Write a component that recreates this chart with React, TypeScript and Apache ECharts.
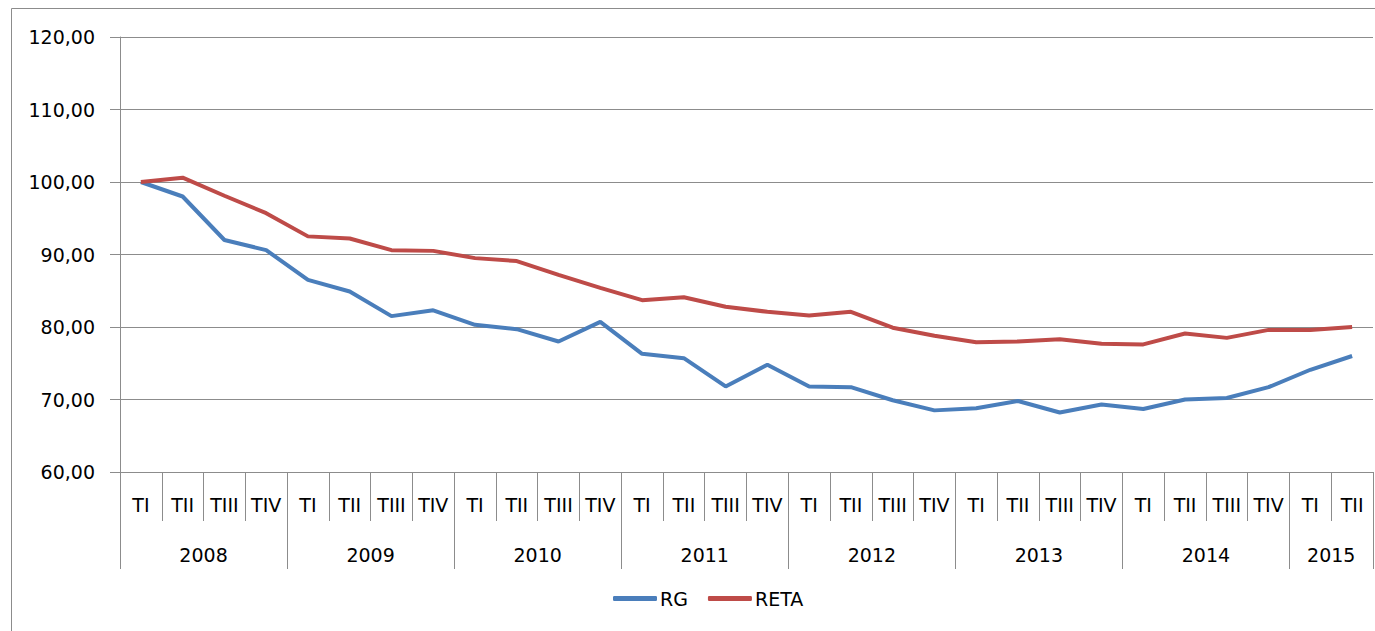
import React, { useEffect, useRef } from "react";
import * as echarts from "echarts";

const years = ["2008", "2009", "2010", "2011", "2012", "2013", "2014", "2015"];
const quarterNames = ["TI", "TII", "TIII", "TIV"];
const quarterCounts = [4, 4, 4, 4, 4, 4, 4, 2];

const rgValues = [
  100.0, 98.0, 92.0, 90.6, 86.5, 84.9, 81.5, 82.3, 80.3, 79.7, 78.0, 80.7, 76.3, 75.7, 71.8,
  74.8, 71.8, 71.7, 69.9, 68.5, 68.8, 69.8, 68.2, 69.3, 68.7, 70.0, 70.2, 71.7, 74.1, 76.0,
];
const retaValues = [
  100.0, 100.6, 98.1, 95.7, 92.5, 92.2, 90.6, 90.5, 89.5, 89.1, 87.2, 85.4, 83.7, 84.1, 82.8,
  82.1, 81.6, 82.1, 79.9, 78.8, 77.9, 78.0, 78.3, 77.7, 77.6, 79.1, 78.5, 79.6, 79.6, 80.0,
];

const quarterLabels: string[] = [];
const yearBoundaries: number[] = [0];
const yearCenters: number[] = [];
{
  let pos = 0;
  quarterCounts.forEach((n) => {
    for (let i = 0; i < n; i++) quarterLabels.push(quarterNames[i]);
    yearCenters.push(pos + n / 2);
    pos += n;
    yearBoundaries.push(pos);
  });
}

const FONT = "DejaVu Sans";
const FS = 19;
const GRAY = "#8c8c8c";

export default function App() {
  const ref = useRef<HTMLDivElement>(null);
  useEffect(() => {
    if (!ref.current) return;
    const chart = echarts.init(ref.current, undefined, { renderer: "svg" });
    chart.setOption({
      animation: false,
      backgroundColor: "#ffffff",
      textStyle: { fontFamily: FONT },
      graphic: [
        {
          type: "rect",
          shape: { x: 11.5, y: 8.5, width: 1400, height: 700 },
          style: { fill: "none", stroke: GRAY, lineWidth: 1 },
          silent: true,
        },
      ],
      grid: { left: 120, right: 2, top: 37, bottom: 159, containLabel: false },
      legend: {
        bottom: 18,
        left: 608,
        icon: "roundRect",
        itemWidth: 44,
        itemHeight: 5,
        itemGap: 20,
        textStyle: { fontFamily: FONT, fontSize: FS, color: "#000", padding: [0, 0, 0, -2] },
        data: ["RG", "RETA"],
      },
      xAxis: [
        {
          type: "category",
          data: quarterLabels,
          boundaryGap: true,
          axisLine: { show: true, lineStyle: { color: GRAY, width: 1 } },
          axisTick: { show: true, interval: 0, length: 49, lineStyle: { color: GRAY } },
          axisLabel: {
            interval: 0,
            margin: 23,
            fontFamily: FONT,
            fontSize: FS,
            color: "#000",
          },
          splitLine: { show: false },
        },
        {
          type: "value",
          min: 0,
          max: quarterLabels.length,
          position: "bottom",
          axisLine: { show: false },
          axisTick: {
            show: true,
            length: 97,
            customValues: yearBoundaries,
            lineStyle: { color: GRAY },
          },
          axisLabel: {
            show: true,
            margin: 73,
            customValues: yearCenters,
            formatter: (v: number) => {
              const idx = yearCenters.findIndex((c) => Math.abs(c - v) < 1e-6);
              return idx >= 0 ? years[idx] : "";
            },
            fontFamily: FONT,
            fontSize: FS,
            color: "#000",
          },
          splitLine: { show: false },
        },
      ],
      yAxis: {
        type: "value",
        min: 60,
        max: 120,
        interval: 10,
        axisLine: { show: true, lineStyle: { color: GRAY, width: 1 } },
        axisTick: { show: true, length: 10, lineStyle: { color: GRAY } },
        axisLabel: {
          margin: 25,
          fontFamily: FONT,
          fontSize: FS,
          color: "#000",
          formatter: (v: number) => v.toFixed(2).replace(".", ","),
        },
        splitLine: { show: true, lineStyle: { color: GRAY, width: 1 } },
      },
      series: [
        {
          name: "RG",
          type: "line",
          data: rgValues,
          xAxisIndex: 0,
          showSymbol: false,
          symbol: "none",
          lineStyle: { color: "#4a7ebb", width: 4 },
          itemStyle: { color: "#4a7ebb" },
        },
        {
          name: "RETA",
          type: "line",
          data: retaValues,
          xAxisIndex: 0,
          showSymbol: false,
          symbol: "none",
          lineStyle: { color: "#be4b48", width: 4 },
          itemStyle: { color: "#be4b48" },
        },
      ],
    });
    return () => chart.dispose();
  }, []);
  return (
    <div
      ref={ref}
      style={{ position: "fixed", left: 0, top: 0, width: 1375, height: 631 }}
    />
  );
}
